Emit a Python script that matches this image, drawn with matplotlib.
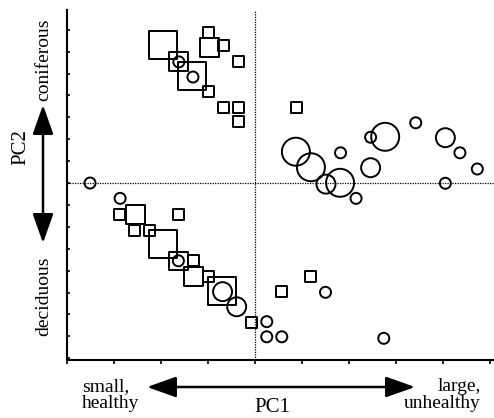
"""
PCA ordination of plots: squares and circles sized by class.
"""

import matplotlib
matplotlib.use("Agg")
import matplotlib.pyplot as plt
from matplotlib.patches import FancyArrowPatch

# squares: PC1, PC2, size class
sq_pc1 = [-1.95, -0.99, -0.97, -0.66, -0.36, -1.62, -1.33, -0.99, -0.68, -0.36,
          -0.36, 0.89, -2.89, -2.55, -1.63, -2.57, -2.25, -1.96, -1.63, -1.31,
          -1.31, -0.98, -0.71, -0.07, 0.57, 1.19]
sq_pc2 = [6.30, 6.89, 6.21, 6.26, 5.53, 5.57, 4.89, 4.16, 3.47, 3.47,
          2.79, 3.46, -1.43, -1.44, -1.42, -2.18, -2.18, -2.79, -3.56, -3.55,
          -4.27, -4.25, -4.91, -6.38, -4.96, -4.26]
sq_cls = [3, 1, 2, 1, 1, 2, 3, 1, 1, 1,
          1, 1, 1, 2, 1, 1, 1, 3, 2, 1,
          2, 1, 3, 1, 1, 1]

# circles: PC1, PC2, size class
ci_pc1 = [-1.62, -1.32, -3.51, -2.87, -1.63, -0.69, -0.39, 0.25, 0.25, 0.57,
          1.50, 2.74, 0.87, 1.19, 1.51, 1.81, 2.15, 1.82, 2.46, 2.46,
          2.77, 3.42, 4.05, 4.36, 4.73, 4.05]
ci_pc2 = [5.53, 4.84, 0.00, -0.70, -3.55, -4.96, -5.65, -6.33, -7.02, -7.02,
          -4.99, -7.09, 1.43, 0.72, -0.05, 0.01, -0.70, 1.38, 0.70, 2.09,
          2.11, 2.75, 2.07, 1.38, 0.64, -0.01]
ci_cls = [1, 1, 1, 1, 1, 2, 2, 1, 1, 1,
          1, 1, 3, 3, 2, 3, 1, 1, 2, 1,
          3, 1, 2, 1, 1, 1]

size_of = {1: 63, 2: 187, 3: 406}
serif = ["Liberation Serif", "DejaVu Serif"]

fig = plt.figure(figsize=(4.94, 4.18), dpi=100)
ax = fig.add_axes([67 / 494, 1 - 360 / 418, 427 / 494, 350 / 418])

ax.axvline(0, color="black", lw=0.9, ls=(0, (1, 1)), zorder=1)
ax.axhline(0, color="black", lw=0.9, ls=(0, (1, 1)), zorder=1)

ax.scatter(sq_pc1, sq_pc2, s=[size_of[c] for c in sq_cls], marker="s",
           facecolors="none", edgecolors="black", linewidths=1.4, zorder=3)
ax.scatter(ci_pc1, ci_pc2, s=[size_of[c] for c in ci_cls], marker="o",
           facecolors="none", edgecolors="black", linewidths=1.4, zorder=3)

ax.set_xlim(-4, 5.085)
ax.set_ylim(-8.08, 7.9)
ax.set_xticks(range(-4, 6))
ax.set_yticks(range(-8, 8))
ax.set_xticklabels([])
ax.set_yticklabels([])
ax.tick_params(axis="x", direction="out", length=3, width=1.2)
ax.tick_params(axis="y", direction="in", length=2.5, width=1.2)
for side in ("top", "right"):
    ax.spines[side].set_visible(False)
for side in ("left", "bottom"):
    ax.spines[side].set_linewidth(1.5)

# x axis annotation
fig.text(82 / 494, 1 - 395 / 418, "small,\nhealthy", family=serif, fontsize=14,
         ha="left", va="center", linespacing=0.95)
fig.text(481 / 494, 1 - 395 / 418, "large,\nunhealthy", family=serif, fontsize=14,
         ha="right", va="center", linespacing=0.95, multialignment="right")
fig.text(272 / 494, 1 - 407 / 418, "PC1", family=serif, fontsize=15,
         ha="center", va="center")
fig.patches.append(FancyArrowPatch(
    (147 / 494, 1 - 387 / 418), (415 / 494, 1 - 387 / 418),
    transform=fig.transFigure, arrowstyle="<|-|>,head_length=0.9,head_width=0.32",
    mutation_scale=20, color="black", lw=1.8, shrinkA=0, shrinkB=0))

# y axis annotation
fig.text(21 / 494, 1 - 147 / 418, "PC2", family=serif, fontsize=15,
         ha="center", va="center", rotation=90)
fig.text(44 / 494, 1 - 60 / 418, "coniferous", family=serif, fontsize=14,
         ha="center", va="center", rotation=90)
fig.text(44 / 494, 1 - 296 / 418, "deciduous", family=serif, fontsize=14,
         ha="center", va="center", rotation=90)
fig.patches.append(FancyArrowPatch(
    (43 / 494, 1 - 105 / 418), (43 / 494, 1 - 243 / 418),
    transform=fig.transFigure, arrowstyle="<|-|>,head_length=0.9,head_width=0.32",
    mutation_scale=20, color="black", lw=1.8, shrinkA=0, shrinkB=0))

fig.savefig("out.png", dpi=100)
